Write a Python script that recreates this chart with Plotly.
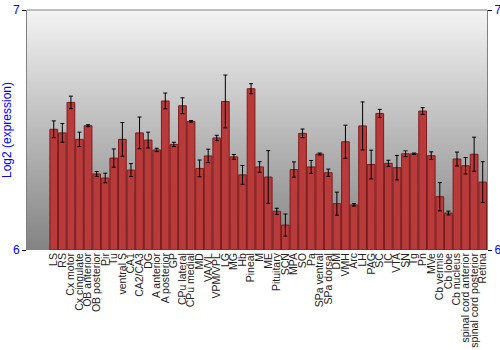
import plotly.graph_objects as go

categories = ["LS", "RS", "Cx motor", "Cx cingulate", "OB anterior", "OB posterior", "Pir", "Tu",
              "ventral S", "CA1", "CA2/CA3", "DG", "A anterior", "A posterior", "GP", "CPu lateral",
              "CPu medial", "MD", "VA/VL", "VPM/VPL", "LG", "MG", "Hb", "Pineal", "M", "ME",
              "Pituitary", "SCN", "MPA", "SO", "Pa", "SPa ventral", "SPa dorsal", "DM", "VMH", "Arc",
              "LH", "PAG", "SC", "IC", "VTA", "SN", "Tg", "Pn", "MVe", "Cb vermis", "Cb lobe",
              "Cb nucleus", "spinal cord anterior", "spinal cord posterior", "Retina"]

values = [6.503, 6.488, 6.615, 6.461, 6.518, 6.317, 6.300, 6.383,
          6.461, 6.333, 6.488, 6.458, 6.417, 6.621, 6.440, 6.601,
          6.536, 6.340, 6.392, 6.467, 6.619, 6.388, 6.313, 6.672, 6.346, 6.304,
          6.161, 6.104, 6.335, 6.486, 6.346, 6.400, 6.322, 6.193, 6.451, 6.188,
          6.517, 6.356, 6.569, 6.361, 6.343, 6.401, 6.401, 6.579, 6.393, 6.222, 6.154,
          6.379, 6.351, 6.399, 6.283]

errors = [0.035, 0.039, 0.026, 0.030, 0.004, 0.010, 0.020, 0.038,
          0.070, 0.027, 0.066, 0.033, 0.007, 0.033, 0.009, 0.033,
          0.003, 0.035, 0.028, 0.011, 0.110, 0.010, 0.039, 0.021, 0.022, 0.110,
          0.013, 0.046, 0.032, 0.018, 0.027, 0.004, 0.015, 0.048, 0.069, 0.005,
          0.100, 0.060, 0.017, 0.013, 0.051, 0.012, 0.003, 0.014, 0.016, 0.059, 0.008,
          0.029, 0.034, 0.071, 0.085]

y_range = [6, 7]
y_ticks = [6, 7]

fig = go.Figure()

# background gradient strips (style only)
n_strips = 60
top_rgb = (242, 242, 242)
bot_rgb = (132, 132, 132)
for i in range(n_strips):
    t = i / (n_strips - 1)
    r = round(top_rgb[0] + (bot_rgb[0] - top_rgb[0]) * t)
    g = round(top_rgb[1] + (bot_rgb[1] - top_rgb[1]) * t)
    b = round(top_rgb[2] + (bot_rgb[2] - top_rgb[2]) * t)
    fig.add_shape(type="rect", xref="paper", yref="paper",
                  x0=0, x1=1, y0=1 - (i + 1) / n_strips, y1=1 - i / n_strips,
                  fillcolor=f"rgb({r},{g},{b})", line_width=0, layer="below")

fig.add_trace(go.Bar(
    x=categories, y=[v - y_range[0] for v in values], base=y_range[0],
    marker=dict(color="#b83a3a", line=dict(color="#7c1c1c", width=1)),
    error_y=dict(type="data", array=errors, color="black", thickness=1, width=2),
    showlegend=False,
))
# invisible trace for the right axis
fig.add_trace(go.Scatter(x=[categories[0]], y=[y_range[0]], yaxis="y2",
                         mode="markers", marker=dict(opacity=0), showlegend=False,
                         hoverinfo="skip"))

fig.add_shape(type="line", xref="paper", yref="paper", x0=0, x1=1, y0=1, y1=1,
              line=dict(color="#808080", width=1))

axis_font = dict(family="Liberation Sans, Arial, sans-serif", size=12, color="#0000ff")

fig.update_layout(
    width=500, height=350,
    margin=dict(l=27, r=13, t=10, b=100),
    paper_bgcolor="white", plot_bgcolor="rgba(0,0,0,0)",
    bargap=0.1,
    xaxis=dict(type="category", tickangle=-90, showgrid=False, ticks="",
               tickmode="linear", dtick=1,
               tickfont=dict(family="Liberation Sans, Arial, sans-serif", size=10.5, color="#222222"),
               showline=False, zeroline=False, automargin=False),
    yaxis=dict(range=y_range, tickvals=y_ticks, showgrid=False, zeroline=False,
               ticks="outside", ticklen=4, tickcolor="black",
               showline=True, linecolor="#808080", linewidth=1,
               tickfont=axis_font,
               title=dict(text="Log2 (expression)", standoff=3,
                          font=dict(family="Liberation Sans, Arial, sans-serif", size=12, color="#0000ff")),
               automargin=False),
    yaxis2=dict(range=y_range, tickvals=y_ticks, overlaying="y", side="right",
                showgrid=False, zeroline=False, ticks="outside", ticklen=4, tickcolor="black",
                showline=True, linecolor="#808080", linewidth=1,
                tickfont=axis_font, automargin=False),
)

fig.write_html("out.html")
